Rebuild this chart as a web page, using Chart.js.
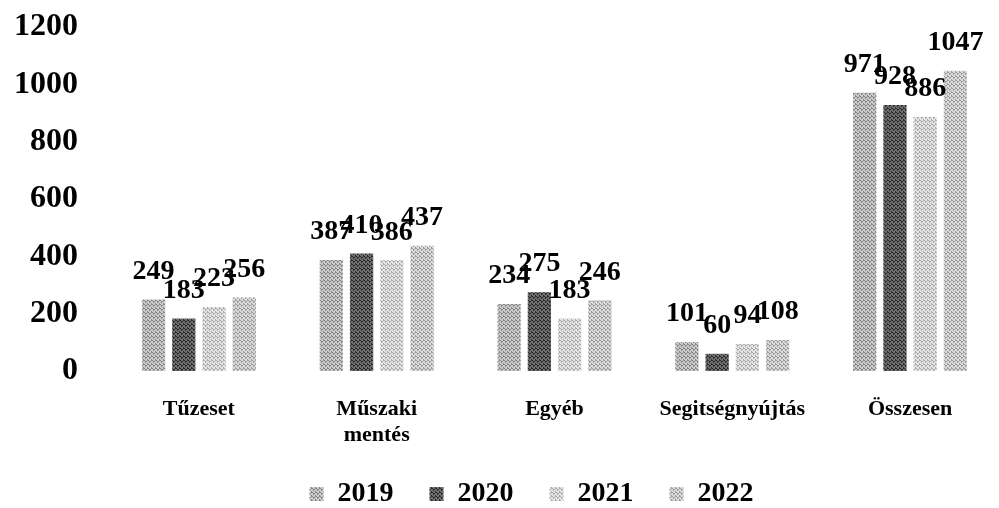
<!DOCTYPE html>
<html>
<head>
<meta charset="utf-8">
<script src="https://cdn.jsdelivr.net/npm/chart.js@4/dist/chart.umd.min.js"></script>
<style>
  html, body { margin: 0; padding: 0; background: #fff; }
  #wrap { width: 999px; height: 508px; }
</style>
</head>
<body>
<div id="wrap"><canvas id="myChart"></canvas></div>
<script>
const kategoriak = ["Tűzeset", ["Műszaki", "mentés"], "Egyéb", "Segitségnyújtás", "Összesen"];
const evek = ["2019", "2020", "2021", "2022"];
const ertek2019 = [249, 387, 234, 101, 971];
const ertek2020 = [183, 410, 275, 60, 928];
const ertek2021 = [223, 386, 183, 94, 886];
const ertek2022 = [256, 437, 246, 108, 1047];
const yTickek = [0, 200, 400, 600, 800, 1000, 1200];

const betu = "'Liberation Serif', 'Times New Roman', serif";

// pottyos minta a nyomtatott szürke hatáshoz
const minta = (sotet, vilagos) => {
  const c = document.createElement("canvas");
  c.width = 4; c.height = 4;
  const g = c.getContext("2d");
  g.fillStyle = vilagos;
  g.fillRect(0, 0, 4, 4);
  g.fillStyle = sotet;
  [[0,0],[2,1],[1,2],[3,3],[3,0],[1,1]].forEach(([x, y]) => g.fillRect(x, y, 1, 1));
  return g.createPattern(c, "repeat");
};

const szinek = [
  minta("#858585", "#cccccc"),
  minta("#2a2a2a", "#707070"),
  minta("#a8a8a8", "#e6e6e6"),
  minta("#9a9a9a", "#dadada"),
];

const cimkek = {
  id: "cimkek",
  afterDatasetsDraw(chart) {
    const ctx = chart.ctx;
    ctx.save();
    ctx.font = "bold 28px " + betu;
    ctx.fillStyle = "#000";
    ctx.textAlign = "center";
    ctx.textBaseline = "bottom";
    chart.data.datasets.forEach((ds, i) => {
      chart.getDatasetMeta(i).data.forEach((bar, j) => {
        ctx.fillText(String(ds.data[j]), bar.x, bar.y - 14);
      });
    });
    ctx.restore();
  },
};

// a jelmagyarázat kicsit jobbra tolva, mint az eredetin
const legendEltolas = {
  id: "legendEltolas",
  afterLayout(chart) {
    chart.legend.left += 32;
    chart.legend.right += 32;
  },
};

const sorok = [ertek2019, ertek2020, ertek2021, ertek2022];

new Chart(document.getElementById("myChart"), {
  type: "bar",
  data: {
    labels: kategoriak,
    datasets: evek.map((ev, i) => ({
      label: ev,
      data: sorok[i],
      backgroundColor: szinek[i],
      borderWidth: 0,
      categoryPercentage: 0.68,
      barPercentage: 0.77,
    })),
  },
  options: {
    responsive: true,
    maintainAspectRatio: false,
    animation: false,
    layout: { padding: { top: 27, right: 0, bottom: -10, left: 0 } },
    plugins: {
      tooltip: { enabled: false },
      legend: {
        position: "bottom",
        labels: {
          color: "#000",
          font: { family: betu, size: 28, weight: "bold" },
          boxWidth: 14,
          boxHeight: 14,
          padding: 36,
        },
      },
    },
    scales: {
      x: {
        grid: { display: false },
        border: { display: false },
        ticks: {
          color: "#000",
          padding: 17,
          maxRotation: 0,
          font: { family: betu, size: 22, weight: "bold" },
        },
        afterFit: (s) => { s.height = 73; },
      },
      y: {
        min: 0,
        max: 1200,
        grid: { display: false },
        border: { display: false },
        afterBuildTicks: (s) => { s.ticks = yTickek.map((v) => ({ value: v })); },
        ticks: {
          color: "#000",
          padding: 24,
          font: { family: betu, size: 32, weight: "bold" },
          callback: (v) => String(v),
        },
        afterFit: (s) => { s.width = 110; s.paddingTop = 0; s.paddingBottom = 0; },
      },
    },
  },
  plugins: [cimkek, legendEltolas],
});
</script>
</body>
</html>
